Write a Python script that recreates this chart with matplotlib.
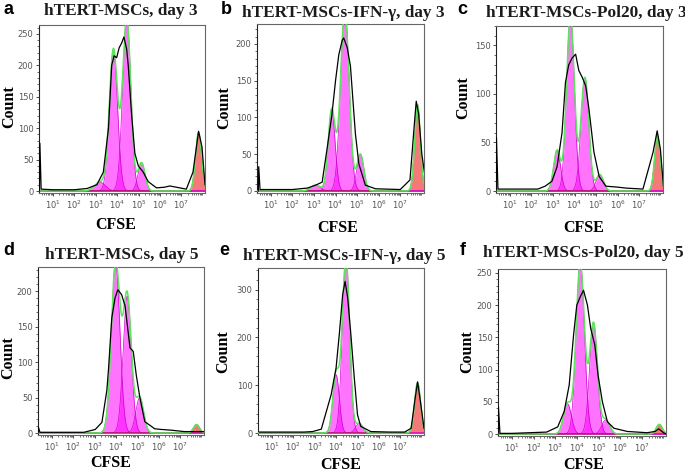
import numpy as np
import matplotlib
matplotlib.use('Agg')
import matplotlib.pyplot as plt
from matplotlib.ticker import FixedLocator, LogLocator, MultipleLocator, AutoMinorLocator, NullFormatter

# Panel titles and y scales
letters = ['a', 'b', 'c', 'd', 'e', 'f']
titles = ['hTERT-MSCs, day 3', 'hTERT-MSCs-IFN-\u03b3, day 3', 'hTERT-MSCs-Pol20, day 3',
          'hTERT-MSCs, day 5', 'hTERT-MSCs-IFN-\u03b3, day 5', 'hTERT-MSCs-Pol20, day 5']
ytops = [264, 227, 170, 234, 345, 256]
ysteps = [50, 50, 50, 50, 100, 50]

# Generation peaks: log10(CFSE) position, count height, width (decades)
peak_pos_a = [3.2, 3.83, 4.45, 5.14]
peak_h_a = [14, 225, 275, 45]
peak_w_a = [0.25, 0.19, 0.19, 0.16]
peak_pos_b = [3.08, 3.82, 4.43, 5.15]
peak_h_b = [8, 110, 245, 50]
peak_w_b = [0.22, 0.16, 0.2, 0.16]
peak_pos_c = [3.19, 3.81, 4.48, 5.17]
peak_h_c = [42, 180, 117, 17]
peak_w_c = [0.16, 0.18, 0.18, 0.17]
peak_pos_d = [3.98, 4.52, 5.1]
peak_h_d = [240, 193, 50]
peak_w_d = [0.2, 0.19, 0.18]
peak_pos_e = [4.0, 4.46, 5.08]
peak_h_e = [122, 365, 20]
peak_w_e = [0.15, 0.17, 0.17]
peak_pos_f = [3.56, 4.15, 4.76, 5.32]
peak_h_f = [47, 265, 172, 22]
peak_w_f = [0.18, 0.19, 0.18, 0.18]

# Undivided (parent) peak: position, height, width
red_a = (7.8, 93, 0.14)
red_b = (7.8, 117, 0.13)
red_c = (7.84, 57, 0.13)
red_d = (7.75, 12, 0.14)
red_e = (7.8, 105, 0.14)
red_f = (7.79, 15, 0.14)

# Measured histogram (black line)
xlog_a = [0.38, 0.4, 0.46, 1.0, 2.0, 2.6, 3.06, 3.36, 3.6, 3.75, 3.86, 3.98, 4.1, 4.21, 4.32,
          4.45, 4.52, 4.68, 4.83, 4.99, 5.22, 5.45, 5.84, 6.2, 6.46, 6.92, 7.23, 7.54, 7.8, 7.96, 8.1]
count_a = [0, 76, 3, 2, 2, 4, 10, 30, 100, 200, 215, 212, 228, 235, 245,
           225, 200, 120, 60, 40, 30, 15, 5, 6, 8, 5, 3, 30, 95, 70, 10]
xlog_b = [0.42, 0.44, 0.5, 1.0, 2.0, 2.7, 3.08, 3.38, 3.62, 3.82, 4.0, 4.15, 4.31, 4.38, 4.54,
          4.69, 4.92, 5.08, 5.38, 5.85, 7.0, 7.45, 7.65, 7.74, 7.85, 8.0, 8.12]
count_b = [0, 33, 2, 2, 2, 4, 8, 12, 60, 101, 150, 185, 205, 208, 195,
           170, 78, 37, 8, 3, 2, 15, 90, 122, 105, 50, 25]
xlog_c = [0.36, 0.38, 0.45, 1.0, 2.3, 2.64, 2.95, 3.19, 3.42, 3.58, 3.73, 3.89, 4.05, 4.2, 4.36,
          4.52, 4.67, 4.9, 5.14, 5.45, 6.0, 6.39, 7.17, 7.64, 7.83, 7.98, 8.12]
count_c = [0, 55, 2, 2, 2, 5, 10, 25, 60, 112, 130, 137, 141, 124, 117,
           108, 84, 40, 15, 5, 4, 3, 2, 40, 62, 43, 5]
xlog_d = [0.36, 0.38, 0.45, 1.0, 2.5, 3.03, 3.34, 3.57, 3.65, 3.8, 3.95, 4.08, 4.26, 4.42, 4.65,
          4.8, 4.95, 5.11, 5.34, 5.8, 6.1, 6.57, 7.18, 7.65, 8.1]
count_d = [0, 8, 1, 1, 1, 5, 15, 60, 91, 162, 190, 202, 195, 179, 120,
           115, 80, 50, 16, 6, 5, 4, 2, 2, 2]
xlog_e = [0.43, 1.0, 2.5, 2.9, 3.31, 3.77, 4.0, 4.15, 4.31, 4.42, 4.54, 4.69, 4.85, 5.0,
          5.15, 5.62, 6.5, 7.2, 7.5, 7.68, 7.8, 7.92, 8.1]
count_e = [2, 2, 2, 3, 8, 80, 136, 206, 290, 317, 283, 206, 115, 38,
           14, 3, 2, 2, 10, 70, 107, 70, 10]
xlog_f = [0.36, 0.38, 0.45, 1.0, 2.6, 3.11, 3.41, 3.64, 3.84, 3.99, 4.15, 4.3, 4.48, 4.63, 4.82,
          4.97, 5.17, 5.4, 5.7, 6.31, 7.23, 7.6, 7.76, 7.99, 8.1]
count_f = [0, 42, 1, 1, 3, 11, 35, 76, 153, 200, 213, 223, 200, 164, 138,
           91, 50, 19, 9, 4, 2, 4, 8, 2, 0]

peak_pos = [peak_pos_a, peak_pos_b, peak_pos_c, peak_pos_d, peak_pos_e, peak_pos_f]
peak_h = [peak_h_a, peak_h_b, peak_h_c, peak_h_d, peak_h_e, peak_h_f]
peak_w = [peak_w_a, peak_w_b, peak_w_c, peak_w_d, peak_w_e, peak_w_f]
reds = [red_a, red_b, red_c, red_d, red_e, red_f]
xlogs = [xlog_a, xlog_b, xlog_c, xlog_d, xlog_e, xlog_f]
counts = [count_a, count_b, count_c, count_d, count_e, count_f]

# layout in pixels (left, top, right, bottom) of each plot box
W, H = 685, 473
boxes = [(39, 25, 205, 193), (257, 24, 424, 193), (496, 26, 663, 193),
         (38, 267, 204, 435), (258, 268, 424, 435), (498, 269, 666, 436)]
letter_xy = [(9, 10), (226, 10), (462, 9), (9, 250), (224, 250), (463, 250)]
title_xy = [(121, 11), (343, 13), (586, 13), (122, 255), (344, 256), (583, 253)]
count_xy = [(9, 107), (224, 108), (463, 98), (8, 358), (223, 352), (467, 352)]
cfse_xy = [(116, 225), (338, 228), (584, 228), (111, 463), (341, 465), (584, 465)]

serif = 'Liberation Serif'
fig = plt.figure(figsize=(W / 100, H / 100), dpi=100)
grid = np.linspace(0.3, 8.3, 1200)


def gauss(x, mu, h, s):
    return h * np.exp(-0.5 * ((x - mu) / s) ** 2)


for i in range(6):
    l, t, r, b = boxes[i]
    ax = fig.add_axes([l / W, 1 - b / H, (r - l) / W, (b - t) / H])
    xs = 10 ** grid
    total = np.zeros_like(grid)
    for mu, h, s in zip(peak_pos[i], peak_h[i], peak_w[i]):
        g = gauss(grid, mu, h, s)
        total += g
        ax.fill_between(xs, 0, g, color='#ff00ff', alpha=0.55, lw=0, zorder=2)
        ax.plot(xs, g, color='#d000d0', lw=0.5, zorder=3)
    mu, h, s = reds[i]
    gr = gauss(grid, mu, h, s)
    total += gr
    ax.fill_between(xs, 0, gr, color='#f47a7a', lw=0, zorder=2)
    ax.plot(xs, gr, color='#9a1a1a', lw=0.6, zorder=3)
    ax.plot(xs, total, color='#5ee35e', lw=1.1, zorder=4)
    ax.plot(10 ** np.array(xlogs[i]), counts[i], color='black', lw=0.9, zorder=5)

    ax.set_xscale('log')
    ax.set_xlim(10 ** 0.36, 10 ** 8.1)
    ax.set_ylim(-ytops[i] * 0.012, ytops[i])
    ax.xaxis.set_major_locator(FixedLocator([10.0 ** k for k in range(1, 8)]))
    ax.set_xticklabels(['$10^{%d}$' % k for k in range(1, 8)])
    ax.xaxis.set_minor_locator(LogLocator(base=10, subs=np.arange(2, 10), numticks=20))
    ax.xaxis.set_minor_formatter(NullFormatter())
    ax.yaxis.set_major_locator(MultipleLocator(ysteps[i]))
    ax.yaxis.set_minor_locator(AutoMinorLocator(5))
    ax.tick_params(axis='both', which='major', labelsize=6, labelcolor='#555555',
                   length=2.5, width=0.6, pad=1.5, color='#333333')
    ax.tick_params(axis='both', which='minor', length=1.3, width=0.5, color='#333333')
    for side in ['top', 'right', 'bottom']:
        ax.spines[side].set_color('#666666')
        ax.spines[side].set_linewidth(0.8)
    ax.spines['left'].set_color('#222222')
    ax.spines['left'].set_linewidth(0.8)

    fig.text(letter_xy[i][0] / W, 1 - letter_xy[i][1] / H, letters[i], fontsize=13,
             fontweight='bold', family='Liberation Sans', ha='center', va='center')
    fig.text(title_xy[i][0] / W, 1 - title_xy[i][1] / H, titles[i], fontsize=12.4,
             fontweight='bold', family=serif, ha='center', va='center', color='#1c1c1c')
    fig.text(count_xy[i][0] / W, 1 - count_xy[i][1] / H, 'Count', fontsize=11.5,
             fontweight='bold', family=serif, ha='center', va='center', rotation=90)
    fig.text(cfse_xy[i][0] / W, 1 - cfse_xy[i][1] / H, 'CFSE', fontsize=11.5,
             fontweight='bold', family=serif, ha='center', va='center')

fig.savefig('out.png', dpi=100)
